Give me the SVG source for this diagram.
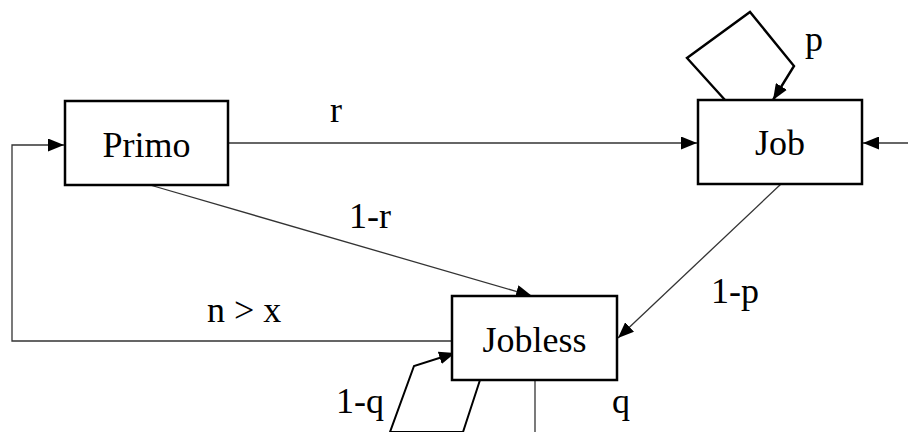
<svg xmlns="http://www.w3.org/2000/svg" width="908" height="432" viewBox="0 0 908 432">
<style>
.node{fill:#fff;stroke:#000;stroke-width:2.5}
.t{font-size:36px;fill:#000}
.c{fill:none;stroke:#333;stroke-width:1.3}
.k{fill:none;stroke:#000;stroke-width:2.4}
.m{fill:none;stroke:#000;stroke-width:2}
</style>
<defs>
<marker id="ah" markerUnits="userSpaceOnUse" markerWidth="17" markerHeight="13" refX="16" refY="6.5" orient="auto">
<path d="M0,0 L16,6.5 L0,13 z" fill="#000"/>
</marker>
</defs>
<g id="connectors" font-family="Liberation Serif, Times New Roman, DejaVu Serif, serif">
<line class="c" x1="228" y1="143" x2="697" y2="143" marker-end="url(#ah)"/>
<line class="c" x1="908" y1="143" x2="863" y2="143" marker-end="url(#ah)"/>
<polyline class="c" points="452,341 12,341 12,145 64,145" marker-end="url(#ah)"/>
<line class="c" x1="150" y1="185" x2="532" y2="296" marker-end="url(#ah)"/>
<line class="c" x1="781" y1="184" x2="618" y2="338" marker-end="url(#ah)"/>
<polyline class="k" points="725,100 687,58 750,12 794,66 773,100" marker-end="url(#ah)"/>
<polyline class="m" points="480,380 463,432 390,432 414,366 455,353" marker-end="url(#ah)"/>
<line class="c" x1="535" y1="380" x2="535" y2="432"/>
<text class="t" x="330" y="122">r</text>
<text class="t" x="349" y="228">1-r</text>
<text class="t" x="711" y="303">1-p</text>
<text class="t" x="207" y="322">n &gt; x</text>
<text class="t" x="805" y="51">p</text>
<text class="t" x="336" y="413">1-q</text>
<text class="t" x="612" y="413">q</text>
</g>
<g id="primo" font-family="Liberation Serif, Times New Roman, DejaVu Serif, serif">
<rect class="node" x="65" y="101" width="163" height="84"/>
<text class="t" x="146.5" y="157" text-anchor="middle">Primo</text>
</g>
<g id="job" font-family="Liberation Serif, Times New Roman, DejaVu Serif, serif">
<rect class="node" x="698" y="100" width="164" height="84"/>
<text class="t" x="780" y="155" text-anchor="middle">Job</text>
</g>
<g id="jobless" font-family="Liberation Serif, Times New Roman, DejaVu Serif, serif">
<rect class="node" x="452" y="296" width="165" height="84"/>
<text class="t" x="534.5" y="352" text-anchor="middle">Jobless</text>
</g>
</svg>
